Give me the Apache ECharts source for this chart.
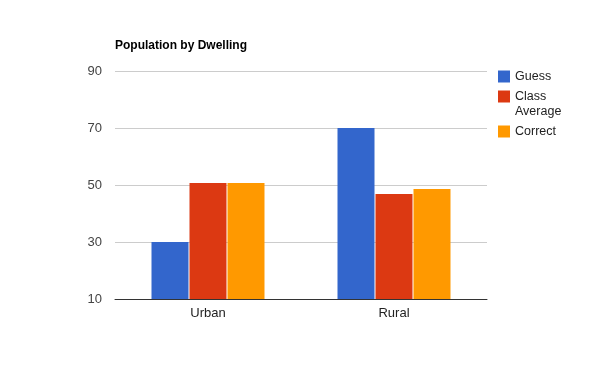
<!DOCTYPE html>
<html><head><meta charset="utf-8">
<script src="https://cdn.jsdelivr.net/npm/echarts@6/dist/echarts.min.js"></script>
<style>html,body{margin:0;padding:0;background:#fff}#c{width:600px;height:371px}</style>
</head><body><div id="c"></div>
<script>
const categories = ['Urban', 'Rural'];
const guess = [30, 70];
const classAverage = [50.7, 46.8];
const correct = [50.7, 48.6];
const yTicks = [10, 30, 50, 70, 90];

const font = 'Arial, "Liberation Sans", sans-serif';
const chart = echarts.init(document.getElementById('c'));
const legendCommon = {
  orient: 'vertical', itemWidth: 12, itemHeight: 12, itemGap: 6, padding: 0,
  icon: 'rect', left: 498, selectedMode: false,
  textStyle: { fontFamily: font, fontSize: 12.5, color: '#222' }
};
chart.setOption({
  animation: false,
  title: { text: 'Population by Dwelling', left: 115, top: 40, padding: 0,
    textStyle: { fontFamily: font, fontSize: 12, fontWeight: 'bold', color: '#000' } },
  legend: [
    Object.assign({}, legendCommon, { top: 70, data: ['Guess'] }),
    Object.assign({}, legendCommon, { top: 90, data: ['Class Average'], formatter: () => 'Class' }),
    Object.assign({}, legendCommon, { top: 125, data: ['Correct'] })
  ],
  graphic: [{
    type: 'text', left: 515, top: 105,
    style: { text: 'Average', font: '12.5px ' + font, fill: '#222' }
  }],
  grid: { left: 115, right: 113, top: 71, bottom: 72 },
  xAxis: {
    type: 'category', data: categories,
    axisLine: { lineStyle: { color: '#333', width: 1 } },
    axisTick: { show: false },
    axisLabel: { margin: 8, fontFamily: font, fontSize: 13, color: '#222' }
  },
  yAxis: {
    type: 'value', min: yTicks[0], max: yTicks[yTicks.length - 1], interval: 20,
    axisLine: { show: false }, axisTick: { show: false },
    axisLabel: { margin: 13, fontFamily: font, fontSize: 13, color: '#444' },
    splitLine: { lineStyle: { color: '#ccc' } }
  },
  series: [
    { name: 'Guess', type: 'bar', data: guess, barWidth: 37, barGap: '2.7%', itemStyle: { color: '#3366CC' } },
    { name: 'Class Average', type: 'bar', data: classAverage, barWidth: 37, barGap: '2.7%', itemStyle: { color: '#DC3912' } },
    { name: 'Correct', type: 'bar', data: correct, barWidth: 37, barGap: '2.7%', itemStyle: { color: '#FF9900' } }
  ]
});
</script></body></html>
